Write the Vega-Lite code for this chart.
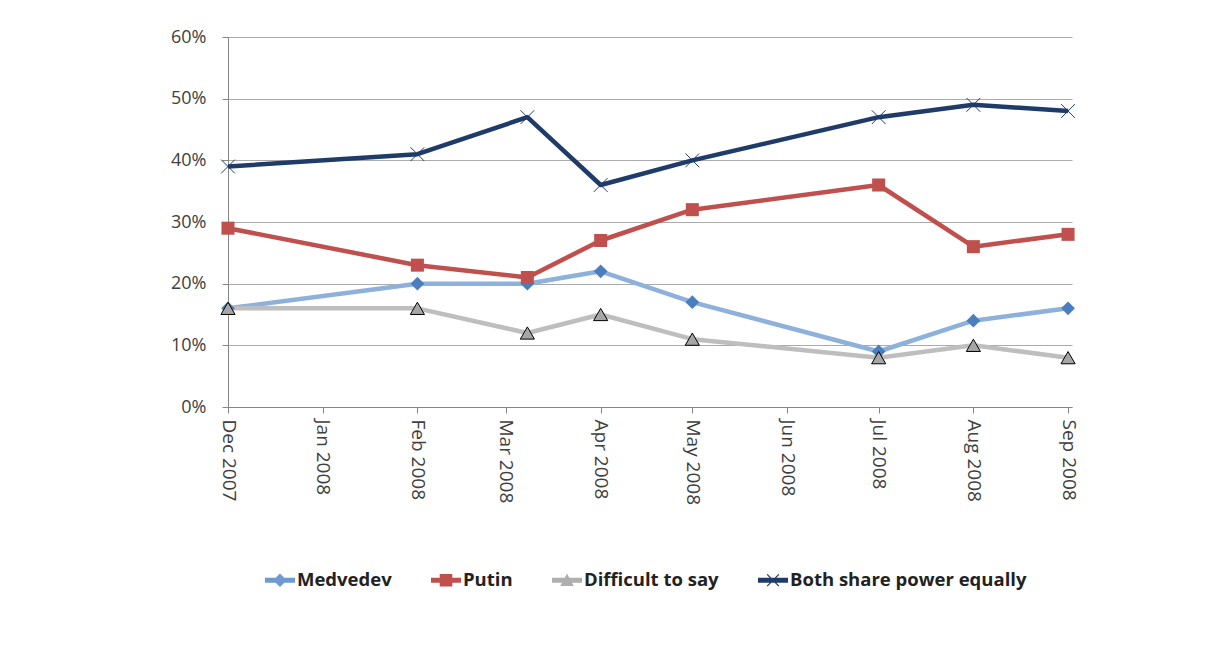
{
  "$schema": "https://vega.github.io/schema/vega-lite/v6.json",
  "width": 844,
  "height": 370,
  "autosize": {"type": "none"},
  "padding": {"left": 228, "top": 37, "right": 143, "bottom": 245},
  "background": "white",
  "config": {
    "view": {"stroke": null},
    "font": "Open Sans",
    "axis": {"labelFont": "Open Sans", "labelFontSize": 18, "labelColor": "#404040", "titleFont": "Open Sans"},
    "legend": {"labelFont": "Open Sans"}
  },
  "data": {
    "values": [
      {"date": "2007-12-01", "series": "Medvedev", "value": 0.16},
      {"date": "2008-02-01", "series": "Medvedev", "value": 0.20},
      {"date": "2008-03-08", "series": "Medvedev", "value": 0.20},
      {"date": "2008-04-01", "series": "Medvedev", "value": 0.22},
      {"date": "2008-05-01", "series": "Medvedev", "value": 0.17},
      {"date": "2008-07-01", "series": "Medvedev", "value": 0.09},
      {"date": "2008-08-01", "series": "Medvedev", "value": 0.14},
      {"date": "2008-09-01", "series": "Medvedev", "value": 0.16},
      {"date": "2007-12-01", "series": "Putin", "value": 0.29},
      {"date": "2008-02-01", "series": "Putin", "value": 0.23},
      {"date": "2008-03-08", "series": "Putin", "value": 0.21},
      {"date": "2008-04-01", "series": "Putin", "value": 0.27},
      {"date": "2008-05-01", "series": "Putin", "value": 0.32},
      {"date": "2008-07-01", "series": "Putin", "value": 0.36},
      {"date": "2008-08-01", "series": "Putin", "value": 0.26},
      {"date": "2008-09-01", "series": "Putin", "value": 0.28},
      {"date": "2007-12-01", "series": "Difficult to say", "value": 0.16},
      {"date": "2008-02-01", "series": "Difficult to say", "value": 0.16},
      {"date": "2008-03-08", "series": "Difficult to say", "value": 0.12},
      {"date": "2008-04-01", "series": "Difficult to say", "value": 0.15},
      {"date": "2008-05-01", "series": "Difficult to say", "value": 0.11},
      {"date": "2008-07-01", "series": "Difficult to say", "value": 0.08},
      {"date": "2008-08-01", "series": "Difficult to say", "value": 0.10},
      {"date": "2008-09-01", "series": "Difficult to say", "value": 0.08},
      {"date": "2007-12-01", "series": "Both share power equally", "value": 0.39},
      {"date": "2008-02-01", "series": "Both share power equally", "value": 0.41},
      {"date": "2008-03-08", "series": "Both share power equally", "value": 0.47},
      {"date": "2008-04-01", "series": "Both share power equally", "value": 0.36},
      {"date": "2008-05-01", "series": "Both share power equally", "value": 0.40},
      {"date": "2008-07-01", "series": "Both share power equally", "value": 0.47},
      {"date": "2008-08-01", "series": "Both share power equally", "value": 0.49},
      {"date": "2008-09-01", "series": "Both share power equally", "value": 0.48}
    ]
  },
  "encoding": {
    "x": {
      "field": "date",
      "type": "temporal",
      "scale": {
        "type": "utc",
        "nice": false,
        "domain": [
          {"year": 2007, "month": 12, "date": 1, "utc": true},
          {"year": 2008, "month": 9, "date": 2, "hours": 7, "utc": true}
        ]
      },
      "axis": {
        "title": null,
        "grid": false,
        "format": "%b %Y",
        "labelAngle": 90,
        "labelPadding": 6,
        "labelFontSize": 19,
        "tickSize": 6,
        "tickColor": "#868686",
        "domainColor": "#868686",
        "labelOverlap": false,
        "values": [
          {"year": 2007, "month": 12, "date": 1, "utc": true},
          {"year": 2008, "month": 1, "date": 1, "utc": true},
          {"year": 2008, "month": 2, "date": 1, "utc": true},
          {"year": 2008, "month": 3, "date": 1, "utc": true},
          {"year": 2008, "month": 4, "date": 1, "utc": true},
          {"year": 2008, "month": 5, "date": 1, "utc": true},
          {"year": 2008, "month": 6, "date": 1, "utc": true},
          {"year": 2008, "month": 7, "date": 1, "utc": true},
          {"year": 2008, "month": 8, "date": 1, "utc": true},
          {"year": 2008, "month": 9, "date": 1, "utc": true}
        ]
      }
    },
    "y": {
      "field": "value",
      "type": "quantitative",
      "scale": {"domain": [0, 0.6], "nice": false, "zero": true},
      "axis": {
        "title": null,
        "format": ".0%",
        "values": [0, 0.1, 0.2, 0.3, 0.4, 0.5, 0.6],
        "grid": true,
        "gridColor": "#ABABAB",
        "gridWidth": 1,
        "tickSize": 6,
        "tickColor": "#868686",
        "domainColor": "#868686",
        "labelPadding": 16
      }
    }
  },
  "layer": [
    {
      "mark": {"type": "point", "filled": true, "size": 4, "opacity": 1},
      "encoding": {
        "fill": {
          "field": "series",
          "type": "nominal",
          "scale": {
            "domain": ["Medvedev", "Putin", "Difficult to say", "Both share power equally"],
            "range": ["#6E9AD2", "#C0504D", "#AFAFAF", "#1F3B69"]
          },
          "legend": {
            "title": null,
            "orient": "none",
            "legendX": 37,
            "legendY": 528,
            "direction": "horizontal",
            "labelFontSize": 18.5,
            "labelFontWeight": "bold",
            "labelColor": "#222222",
            "labelOffset": 2,
            "labelLimit": 500,
            "symbolSize": 900,
            "symbolOpacity": 1,
            "symbolStrokeWidth": 0,
            "columnPadding": 39
          }
        },
        "shape": {
          "field": "series",
          "type": "nominal",
          "scale": {
            "domain": ["Medvedev", "Putin", "Difficult to say", "Both share power equally"],
            "range": [
              "M-1,-0.17H1V0.17H-1Z M0,-0.45L0.45,0L0,0.45L-0.45,0Z",
              "M-1,-0.17H1V0.17H-1Z M-0.42,-0.42H0.42V0.42H-0.42Z",
              "M-1,-0.17H1V0.17H-1Z M0,-0.45L0.45,0.38H-0.45Z",
              "M-1,-0.17H1V0.17H-1Z M-0.42,-0.36L-0.36,-0.42L0.42,0.36L0.36,0.42Z M0.36,-0.42L0.42,-0.36L-0.36,0.42L-0.42,0.36Z"
            ]
          },
          "legend": {
            "title": null,
            "orient": "none",
            "legendX": 37,
            "legendY": 528,
            "direction": "horizontal",
            "labelFontSize": 18.5,
            "labelFontWeight": "bold",
            "labelColor": "#222222",
            "labelOffset": 2,
            "labelLimit": 500,
            "symbolSize": 900,
            "symbolOpacity": 1,
            "symbolStrokeWidth": 0,
            "columnPadding": 39
          }
        }
      }
    },
    {
      "mark": {"type": "line", "strokeWidth": 4.5, "strokeJoin": "round"},
      "encoding": {
        "stroke": {
          "field": "series",
          "type": "nominal",
          "scale": {
            "domain": ["Medvedev", "Putin", "Difficult to say", "Both share power equally"],
            "range": ["#8EB1DB", "#C0504D", "#BEBEBE", "#1F3B69"]
          },
          "legend": null
        },
        "detail": {"field": "series"}
      }
    },
    {
      "transform": [{"filter": "datum.series === 'Medvedev'"}],
      "mark": {"type": "point", "shape": "diamond", "filled": true, "size": 190, "fill": "#4A7EBF", "opacity": 1}
    },
    {
      "transform": [{"filter": "datum.series === 'Putin'"}],
      "mark": {"type": "point", "shape": "square", "filled": true, "size": 170, "fill": "#C0504D", "opacity": 1}
    },
    {
      "transform": [{"filter": "datum.series === 'Difficult to say'"}],
      "mark": {"type": "point", "shape": "triangle-up", "filled": true, "size": 200, "fill": "#A6A6A6", "stroke": "#000000", "strokeWidth": 1, "opacity": 1}
    },
    {
      "transform": [{"filter": "datum.series === 'Both share power equally'"}],
      "mark": {"type": "point", "shape": "M-1,-1L1,1M-1,1L1,-1", "filled": false, "size": 190, "stroke": "#1F3B69", "strokeWidth": 1, "opacity": 1}
    }
  ]
}
